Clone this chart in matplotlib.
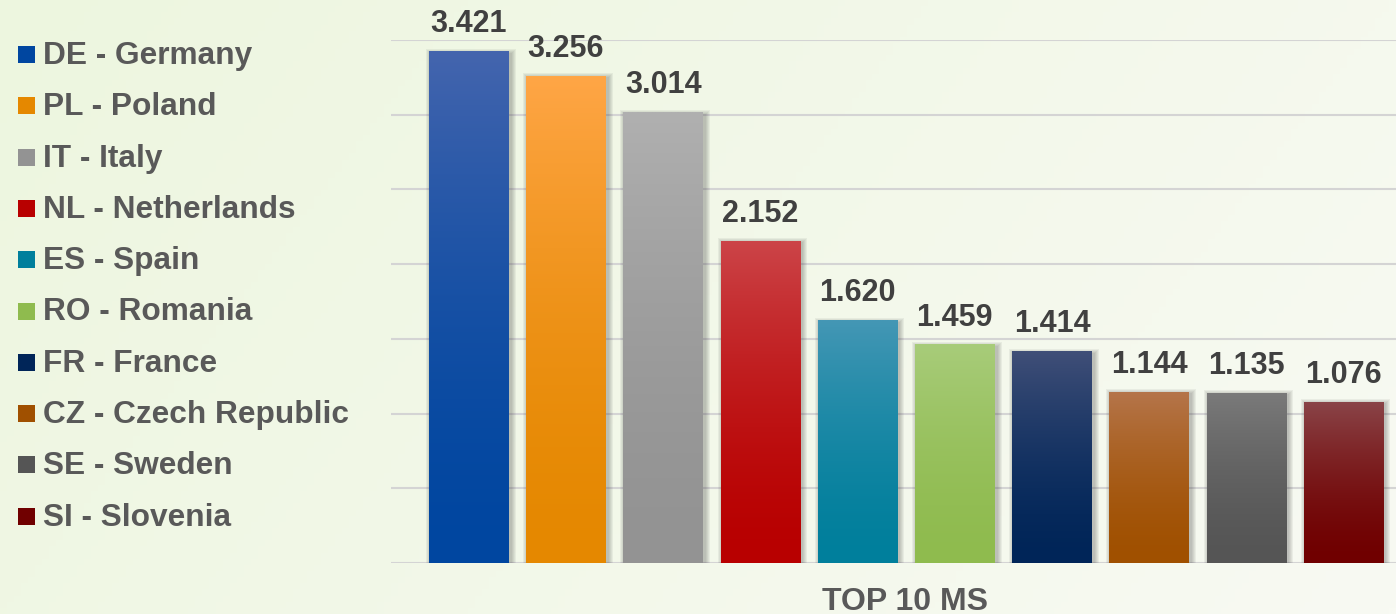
import numpy as np
import matplotlib
matplotlib.use('Agg')
import matplotlib.pyplot as plt
from matplotlib.colors import to_rgb
from matplotlib.patches import Rectangle

codes = ['DE', 'PL', 'IT', 'NL', 'ES', 'RO', 'FR', 'CZ', 'SE', 'SI']
countries = ['Germany', 'Poland', 'Italy', 'Netherlands', 'Spain',
             'Romania', 'France', 'Czech Republic', 'Sweden', 'Slovenia']
values = [3.421, 3.256, 3.014, 2.152, 1.620, 1.459, 1.414, 1.144, 1.135, 1.076]
top_colors = ['#4465ae', '#ffa646', '#b0b0b0', '#cc4448', '#4497b5',
              '#a8cc7a', '#404f78', '#b5754a', '#7a7a7a', '#8a4448']
bottom_colors = ['#0046a0', '#e58800', '#939393', '#b80000', '#007f9c',
                 '#8fbb4e', '#002558', '#a05000', '#555555', '#700000']
xlabel = 'TOP 10 MS'

plt.rcParams['font.family'] = ['Liberation Sans', 'DejaVu Sans']
plt.rcParams['font.weight'] = 'bold'

W, H = 1396, 614
fig = plt.figure(figsize=(W / 100, H / 100), dpi=100)

# background gradient
bg = fig.add_axes([0, 0, 1, 1], zorder=-10)
c0 = np.array(to_rgb('#edf6df'))
c1 = np.array(to_rgb('#f8faf3'))
gx, gy = np.meshgrid(np.linspace(0, 1, 200), np.linspace(0, 1, 100))
t = np.clip(0.75 * gx + 0.25 * gy, 0, 1)[..., None]
bg.imshow(c0 + (c1 - c0) * t, aspect='auto', extent=[0, 1, 0, 1])
bg.axis('off')

ax = fig.add_axes([391 / W, 51 / H, 1 - 391 / W, (563 - 40) / H])
ax.patch.set_alpha(0)
x = np.arange(len(values))
bw = 0.82
bars = ax.bar(x, values, width=bw, color='none', zorder=3)

px_x = 1 / 97.2
px_y = 3.5 / 523
for b, ctop, cbot in zip(bars, top_colors, bottom_colors):
    x0, w, h = b.get_x(), b.get_width(), b.get_height()
    # soft shadow
    for k in range(1, 6):
        ax.add_patch(Rectangle((x0 - k * px_x + 2 * px_x, -k * px_y - 2 * px_y),
                               w + 2 * k * px_x, h + 2 * k * px_y,
                               facecolor='#444444', edgecolor='none', alpha=0.07, zorder=2))
    ct, cb = np.array(to_rgb(ctop)), np.array(to_rgb(cbot))
    s = np.linspace(0, 1, 200)[:, None]
    grad = cb + (ct - cb) * (1 - s) ** 1.6
    ax.imshow(grad[:, None, :], extent=[x0, x0 + w, 0, h], aspect='auto', zorder=3,
              interpolation='bilinear')
    ax.annotate(f'{h:.3f}', (b.get_x() + w / 2, h), xytext=(0, 14),
                textcoords='offset points', ha='center', va='baseline',
                fontsize=22, fontweight='bold', color='#404040',
                annotation_clip=False)

ax.set_xlim(-0.80, -0.80 + 1005 / 97.2)
ax.set_ylim(0, 3.5)
ax.set_yticks(np.arange(0, 3.51, 0.5))
ax.grid(axis='y', color='#d4d4d4', linewidth=1.5, zorder=0)
ax.set_axisbelow(True)
ax.tick_params(left=False, bottom=False, labelleft=False, labelbottom=False)
for sp in ax.spines.values():
    sp.set_visible(False)

fig.text(905 / W, 4 / H, xlabel, ha='center', va='baseline',
         fontsize=23, fontweight='bold', color='#595959')

# legend
for i, (code, name, ct, cb) in enumerate(zip(codes, countries, top_colors, bottom_colors)):
    base = 64 + 51.3 * i
    fig.patches.append(Rectangle((18 / W, 1 - (base - 1) / H), 17 / W, 17 / H,
                                 transform=fig.transFigure, facecolor=cb,
                                 edgecolor='none'))
    fig.text(43 / W, 1 - base / H, f'{code} - {name}', ha='left', va='baseline',
             fontsize=22.8, fontweight='bold', color='#595959')

fig.savefig('out.png', dpi=100)
